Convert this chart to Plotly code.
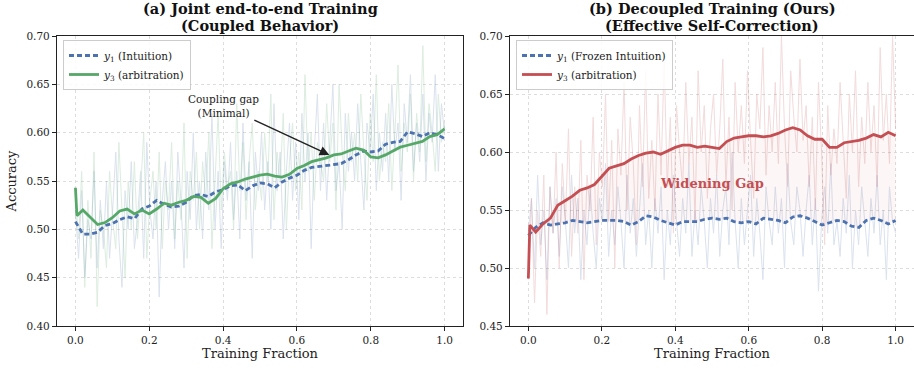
import numpy as np
import plotly.graph_objects as go

# ---------------- data ----------------
# raw (unsmoothed) accuracy curves, 120 evaluation points each
raw_y1_joint = [
    0.52, 0.47, 0.54, 0.45, 0.51, 0.49, 0.56, 0.46, 0.53, 0.48,
    0.55, 0.47, 0.52, 0.58, 0.49, 0.44, 0.54, 0.50, 0.57, 0.48,
    0.51, 0.56, 0.47, 0.59, 0.52, 0.49, 0.55, 0.43, 0.53, 0.57,
    0.50, 0.55, 0.48, 0.58, 0.53, 0.46, 0.56, 0.51, 0.60, 0.50,
    0.55, 0.49, 0.58, 0.52, 0.62, 0.50, 0.56, 0.48, 0.57, 0.53,
    0.59, 0.51, 0.56, 0.49, 0.61, 0.53, 0.57, 0.47, 0.58, 0.54,
    0.60, 0.52, 0.57, 0.50, 0.63, 0.54, 0.58, 0.49, 0.56, 0.61,
    0.53, 0.59, 0.51, 0.62, 0.55, 0.60, 0.48, 0.58, 0.64, 0.54,
    0.61, 0.53, 0.59, 0.65, 0.54, 0.57, 0.50, 0.62, 0.56, 0.60,
    0.55, 0.63, 0.57, 0.52, 0.61, 0.58, 0.64, 0.54, 0.60, 0.56,
    0.62, 0.55, 0.65, 0.58, 0.61, 0.53, 0.63, 0.59, 0.66, 0.56,
    0.61, 0.57, 0.64, 0.55, 0.62, 0.59, 0.66, 0.56, 0.63, 0.60,
]
raw_y3_joint = [
    0.54, 0.49, 0.56, 0.44, 0.53, 0.47, 0.58, 0.42, 0.52, 0.50,
    0.46, 0.56, 0.51, 0.48, 0.59, 0.52, 0.45, 0.55, 0.50, 0.57,
    0.49, 0.54, 0.60, 0.47, 0.53, 0.56, 0.50, 0.58, 0.48, 0.55,
    0.52, 0.59, 0.49, 0.55, 0.51, 0.61, 0.47, 0.56, 0.53, 0.58,
    0.50, 0.57, 0.53, 0.60, 0.48, 0.55, 0.62, 0.52, 0.58, 0.54,
    0.56, 0.50, 0.63, 0.54, 0.59, 0.51, 0.57, 0.61, 0.52, 0.56,
    0.53, 0.60, 0.55, 0.64, 0.51, 0.58, 0.55, 0.62, 0.50, 0.57,
    0.61, 0.54, 0.58, 0.52, 0.66, 0.56, 0.60, 0.53, 0.59, 0.57,
    0.55, 0.63, 0.57, 0.61, 0.52, 0.65, 0.58, 0.54, 0.62, 0.57,
    0.60, 0.55, 0.64, 0.58, 0.53, 0.62, 0.57, 0.66, 0.55, 0.59,
    0.57, 0.63, 0.54, 0.60, 0.67, 0.56, 0.61, 0.58, 0.64, 0.55,
    0.62, 0.58, 0.69, 0.57, 0.63, 0.60, 0.56, 0.64, 0.59, 0.61,
]
raw_y3_dec = [
    0.49, 0.56, 0.47, 0.55, 0.51, 0.58, 0.46, 0.57, 0.53, 0.60,
    0.50, 0.59, 0.54, 0.62, 0.51, 0.57, 0.53, 0.61, 0.49, 0.58,
    0.55, 0.63, 0.52, 0.60, 0.57, 0.65, 0.54, 0.61, 0.50, 0.62,
    0.58, 0.66, 0.55, 0.63, 0.59, 0.52, 0.64, 0.57, 0.67, 0.56,
    0.61, 0.55, 0.65, 0.58, 0.68, 0.57, 0.63, 0.53, 0.64, 0.60,
    0.57, 0.66, 0.59, 0.63, 0.54, 0.67, 0.60, 0.64, 0.56, 0.62,
    0.65, 0.58, 0.62, 0.68, 0.57, 0.63, 0.55, 0.66, 0.60, 0.64,
    0.59, 0.67, 0.61, 0.56, 0.65, 0.62, 0.69, 0.58, 0.64, 0.60,
    0.66, 0.59, 0.70, 0.62, 0.57, 0.67, 0.63, 0.60, 0.68, 0.61,
    0.64, 0.57, 0.63, 0.55, 0.66, 0.60, 0.52, 0.64, 0.58, 0.62,
    0.59, 0.66, 0.61, 0.56, 0.65, 0.60, 0.67, 0.57, 0.63, 0.59,
    0.66, 0.60, 0.64, 0.57, 0.69, 0.61, 0.65, 0.59, 0.70, 0.62,
]
raw_y1_dec = [
    0.53, 0.56, 0.50, 0.58, 0.52, 0.55, 0.49, 0.57, 0.53, 0.56,
    0.51, 0.57, 0.54, 0.50, 0.58, 0.53, 0.56, 0.49, 0.55, 0.52,
    0.57, 0.53, 0.50, 0.56, 0.54, 0.59, 0.51, 0.55, 0.52, 0.57,
    0.54, 0.50, 0.58, 0.53, 0.56, 0.51, 0.55, 0.59, 0.52, 0.55,
    0.50, 0.56, 0.53, 0.57, 0.49, 0.55, 0.52, 0.58, 0.54, 0.51,
    0.56, 0.53, 0.59, 0.51, 0.55, 0.52, 0.57, 0.54, 0.50, 0.56,
    0.53, 0.58, 0.51, 0.55, 0.57, 0.52, 0.60, 0.54, 0.50, 0.56,
    0.52, 0.55, 0.58, 0.51, 0.56, 0.53, 0.49, 0.57, 0.54, 0.52,
    0.57, 0.53, 0.56, 0.50, 0.59, 0.54, 0.52, 0.57, 0.55, 0.51,
    0.55, 0.58, 0.52, 0.56, 0.48, 0.54, 0.57, 0.53, 0.59, 0.52,
    0.54, 0.51, 0.56, 0.53, 0.58, 0.50, 0.55, 0.52, 0.57, 0.54,
    0.51, 0.56, 0.53, 0.58, 0.52, 0.55, 0.49, 0.57, 0.54, 0.53,
]
raw_x = np.linspace(0.0, 1.0, len(raw_y1_joint))

# smoothed curves
smooth_x = [round(0.02 * i, 2) for i in range(51)]

y1_joint = [0.508, 0.495, 0.495, 0.497, 0.504, 0.506, 0.510, 0.513, 0.511, 0.521,
            0.524, 0.530, 0.526, 0.523, 0.524, 0.528, 0.535, 0.536, 0.534, 0.539,
            0.541, 0.545, 0.546, 0.540, 0.545, 0.548, 0.547, 0.543, 0.549, 0.553,
            0.556, 0.561, 0.564, 0.565, 0.566, 0.567, 0.568, 0.572, 0.577, 0.581,
            0.580, 0.581, 0.588, 0.590, 0.591, 0.601, 0.599, 0.596, 0.600, 0.598,
            0.594]

y3_joint_x = [0.0, 0.004] + smooth_x[1:]
y3_joint = [0.543, 0.514,
            0.520, 0.512, 0.505, 0.507, 0.512, 0.519, 0.521, 0.516, 0.520, 0.516,
            0.521, 0.527, 0.525, 0.528, 0.530, 0.534, 0.533, 0.527, 0.532, 0.542,
            0.547, 0.549, 0.552, 0.554, 0.556, 0.557, 0.555, 0.554, 0.557, 0.563,
            0.566, 0.570, 0.572, 0.574, 0.577, 0.578, 0.581, 0.584, 0.582, 0.575,
            0.574, 0.577, 0.581, 0.585, 0.587, 0.589, 0.591, 0.596, 0.598, 0.604]

y1_dec = [0.528, 0.535, 0.539, 0.537, 0.538, 0.539, 0.541, 0.540, 0.539, 0.540,
          0.541, 0.541, 0.541, 0.540, 0.537, 0.540, 0.545, 0.544, 0.541, 0.539,
          0.537, 0.540, 0.540, 0.540, 0.542, 0.543, 0.542, 0.543, 0.540, 0.539,
          0.540, 0.538, 0.543, 0.542, 0.541, 0.539, 0.544, 0.545, 0.543, 0.540,
          0.537, 0.539, 0.541, 0.540, 0.536, 0.535, 0.541, 0.543, 0.541, 0.538,
          0.541]

y3_dec_x = [0.0, 0.004] + smooth_x[1:]
y3_dec = [0.491, 0.537,
          0.531, 0.538, 0.543, 0.554, 0.558, 0.562, 0.567, 0.569, 0.572, 0.579,
          0.586, 0.588, 0.590, 0.594, 0.597, 0.599, 0.600, 0.598, 0.601, 0.604,
          0.606, 0.606, 0.604, 0.605, 0.604, 0.603, 0.609, 0.612, 0.613, 0.614,
          0.614, 0.613, 0.614, 0.616, 0.619, 0.621, 0.619, 0.614, 0.611, 0.611,
          0.604, 0.604, 0.608, 0.609, 0.610, 0.612, 0.615, 0.613, 0.617, 0.614]

BLUE = "#4C72B0"
GREEN = "#55A868"
RED = "#C44E52"
FONT = "DejaVu Serif"

fig = go.Figure()

# ---- left panel ----
fig.add_trace(go.Scatter(x=raw_x, y=raw_y1_joint, mode="lines", xaxis="x", yaxis="y",
                         line=dict(color=BLUE, width=1), opacity=0.2, showlegend=False, hoverinfo="skip"))
fig.add_trace(go.Scatter(x=raw_x, y=raw_y3_joint, mode="lines", xaxis="x", yaxis="y",
                         line=dict(color=GREEN, width=1), opacity=0.2, showlegend=False, hoverinfo="skip"))
fig.add_trace(go.Scatter(x=smooth_x, y=y1_joint, mode="lines", xaxis="x", yaxis="y",
                         name="<i>y</i><sub>1</sub> (Intuition)", legend="legend",
                         line=dict(color=BLUE, width=2.8, dash="5px,3px")))
fig.add_trace(go.Scatter(x=y3_joint_x, y=y3_joint, mode="lines", xaxis="x", yaxis="y",
                         name="<i>y</i><sub>3</sub> (arbitration)", legend="legend",
                         line=dict(color=GREEN, width=2.8)))

# ---- right panel ----
fig.add_trace(go.Scatter(x=raw_x, y=raw_y1_dec, mode="lines", xaxis="x2", yaxis="y2",
                         line=dict(color=BLUE, width=1), opacity=0.2, showlegend=False, hoverinfo="skip"))
fig.add_trace(go.Scatter(x=raw_x, y=raw_y3_dec, mode="lines", xaxis="x2", yaxis="y2",
                         line=dict(color=RED, width=1), opacity=0.2, showlegend=False, hoverinfo="skip"))
fill_x = list(y3_dec_x) + smooth_x[::-1]
fill_y = list(y3_dec) + y1_dec[::-1]
fig.add_trace(go.Scatter(x=fill_x, y=fill_y, mode="none", fill="toself", xaxis="x2", yaxis="y2",
                         fillcolor="rgba(196,78,82,0.05)", showlegend=False, hoverinfo="skip"))
fig.add_trace(go.Scatter(x=smooth_x, y=y1_dec, mode="lines", xaxis="x2", yaxis="y2",
                         name="<i>y</i><sub>1</sub> (Frozen Intuition)", legend="legend2",
                         line=dict(color=BLUE, width=2.8, dash="5px,3px")))
fig.add_trace(go.Scatter(x=y3_dec_x, y=y3_dec, mode="lines", xaxis="x2", yaxis="y2",
                         name="<i>y</i><sub>3</sub> (arbitration)", legend="legend2",
                         line=dict(color=RED, width=2.8)))

tickfont = dict(family=FONT, size=10.5, color="#222")
common_x = dict(range=[-0.05, 1.05], tickvals=[0, 0.2, 0.4, 0.6, 0.8, 1.0],
                ticktext=["0.0", "0.2", "0.4", "0.6", "0.8", "1.0"],
                showgrid=True, gridcolor="#dddddd", griddash="dot", gridwidth=0.8,
                showline=True, linecolor="#222", linewidth=1.2, mirror=True,
                ticks="outside", ticklen=4, tickcolor="#222", tickfont=tickfont,
                zeroline=False, automargin=False,
                title=dict(text="Training Fraction", font=dict(family=FONT, size=13, color="#222"), standoff=4))
common_y = dict(showgrid=True, gridcolor="#dddddd", griddash="dot", gridwidth=0.8,
                showline=True, linecolor="#222", linewidth=1.2, automargin=False,
                ticks="outside", ticklen=4, tickcolor="#222", tickfont=tickfont, zeroline=False)

Y0 = 1 - 326 / 368
Y1 = 1 - 36 / 368

fig.update_layout(
    width=914, height=368,
    margin=dict(l=0, r=0, t=0, b=0, autoexpand=False),
    paper_bgcolor="white", plot_bgcolor="white",
    font=dict(family=FONT, color="#222"),
    xaxis=dict(domain=[57 / 914, 463 / 914], anchor="y", **common_x),
    yaxis=dict(domain=[Y0, Y1], anchor="x", range=[0.40, 0.70], mirror=True,
               tickvals=[0.40, 0.45, 0.50, 0.55, 0.60, 0.65, 0.70],
               ticktext=["0.40", "0.45", "0.50", "0.55", "0.60", "0.65", "0.70"],
               title=dict(text="Accuracy", font=dict(family=FONT, size=13, color="#222"), standoff=6),
               **common_y),
    xaxis2=dict(domain=[510 / 914, 1.0], anchor="y2", **common_x),
    yaxis2=dict(domain=[Y0, Y1], anchor="x2", range=[0.45, 0.70], mirror=False,
                tickvals=[0.45, 0.50, 0.55, 0.60, 0.65, 0.70],
                ticktext=["0.45", "0.50", "0.55", "0.60", "0.65", "0.70"],
                **common_y),
    legend=dict(x=63 / 914, y=1 - 40 / 368, xanchor="left", yanchor="top",
                bgcolor="rgba(255,255,255,0.85)", bordercolor="#cccccc", borderwidth=1,
                font=dict(family=FONT, size=10.5, color="#222"), tracegroupgap=0),
    legend2=dict(x=516 / 914, y=1 - 40 / 368, xanchor="left", yanchor="top",
                 bgcolor="rgba(255,255,255,0.85)", bordercolor="#cccccc", borderwidth=1,
                 font=dict(family=FONT, size=10.5, color="#222"), tracegroupgap=0),
    showlegend=True,
)

title_font = dict(family=FONT, size=14.5, color="#111")
annotations = [
    dict(text="<b>(a) Joint end-to-end Training</b>", xref="paper", yref="paper",
         x=260 / 914, y=1 - 8.5 / 368, xanchor="center", yanchor="middle", showarrow=False, font=title_font),
    dict(text="<b>(Coupled Behavior)</b>", xref="paper", yref="paper",
         x=260 / 914, y=1 - 26 / 368, xanchor="center", yanchor="middle", showarrow=False, font=title_font),
    dict(text="<b>(b) Decoupled Training (Ours)</b>", xref="paper", yref="paper",
         x=712 / 914, y=1 - 8.5 / 368, xanchor="center", yanchor="middle", showarrow=False, font=title_font),
    dict(text="<b>(Effective Self-Correction)</b>", xref="paper", yref="paper",
         x=712 / 914, y=1 - 26 / 368, xanchor="center", yanchor="middle", showarrow=False, font=title_font),
    dict(text="Coupling gap<br>(Minimal)", x=0.688, y=0.577, xref="x", yref="y",
         ax=0.40, ay=0.628, axref="x", ayref="y", showarrow=True,
         arrowhead=2, arrowsize=1.3, arrowwidth=1.5, arrowcolor="#222",
         font=dict(family=FONT, size=10.5, color="#222")),
    dict(text="<b>Widening Gap</b>", x=0.5, y=0.573, xref="x2", yref="y2", showarrow=False,
         font=dict(family=FONT, size=13, color=RED)),
]
fig.update_layout(annotations=annotations)

fig.write_html("out.html", config={"displayModeBar": False},
               post_script="document.body.style.margin='0';document.body.style.padding='0';")
